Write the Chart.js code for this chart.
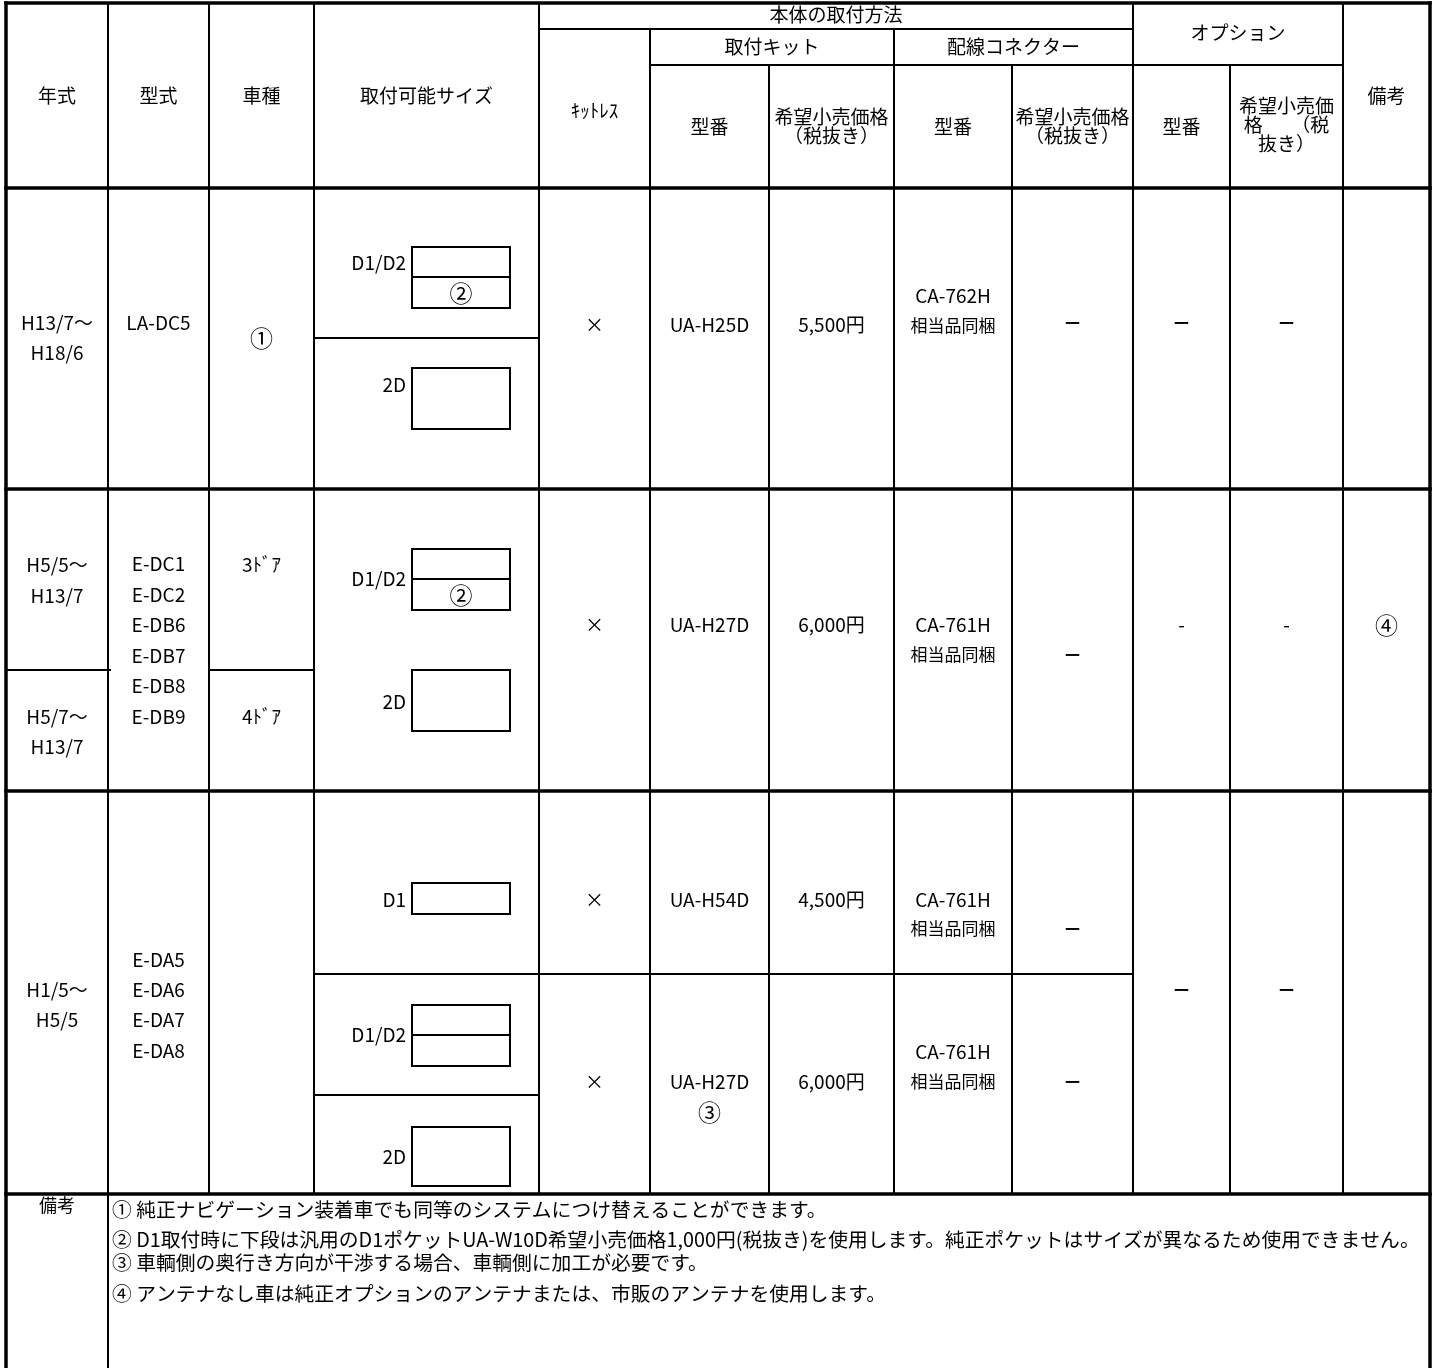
<!DOCTYPE html>
<html><head><meta charset="utf-8">
<script src="https://cdn.jsdelivr.net/npm/chart.js@4.4.1/dist/chart.umd.min.js"></script>
<style>html,body{margin:0;padding:0;background:#fff;}#wrap{width:1435px;height:1368px;position:relative;}</style>
</head><body><div id="wrap"><canvas id="c" width="1435" height="1368"></canvas></div>
<script>
// ===== DATA =====
const headerGroups = ["本体の取付方法", "取付キット", "配線コネクター", "オプション"];
const columnHeaders = [["年式"], ["型式"], ["車種"], ["取付可能サイズ"], ["ｷｯﾄﾚｽ"], ["型番"], ["希望小売価格", "（税抜き）"], ["型番"], ["希望小売価格", "（税抜き）"], ["型番"], ["希望小売価", "格　　（税", "抜き）"], ["備考"]];
const years = [["H13/7～", "H18/6"], ["H5/5～", "H13/7"], ["H5/7～", "H13/7"], ["H1/5～", "H5/5"]];
const models = [["LA-DC5"], ["E-DC1", "E-DC2", "E-DB6", "E-DB7", "E-DB8", "E-DB9"], ["E-DA5", "E-DA6", "E-DA7", "E-DA8"]];
const carTypes = ["①", "3ﾄﾞｱ", "4ﾄﾞｱ"];
const sizeLabels = ["D1/D2", "2D", "D1/D2", "2D", "D1", "D1/D2", "2D"];
const sizeNotes = ["②", "", "②", "", "", "", ""];
const kitless = ["×", "×", "×", "×"];
const kitModels = ["UA-H25D", "UA-H27D", "UA-H54D", "UA-H27D"];
const kitModelNotes = ["", "", "", "③"];
const kitPrices = ["5,500円", "6,000円", "4,500円", "6,000円"];
const connectorModels = ["CA-762H", "CA-761H", "CA-761H", "CA-761H"];
const connectorNotes = ["相当品同梱", "相当品同梱", "相当品同梱", "相当品同梱"];
const connectorPrices = ["－", "－", "－", "－"];
const optionModels = ["－", "-", "－"];
const optionPrices = ["－", "-", "－"];
const remarks = ["", "④", ""];
const notesLabel = "備考";
const notes = [
  "① 純正ナビゲーション装着車でも同等のシステムにつけ替えることができます。",
  "② D1取付時に下段は汎用のD1ポケットUA-W10D希望小売価格1,000円(税抜き)を使用します。純正ポケットはサイズが異なるため使用できません。",
  "③ 車輌側の奥行き方向が干渉する場合、車輌側に加工が必要です。",
  "④ アンテナなし車は純正オプションのアンテナまたは、市販のアンテナを使用します。"
];

// ===== LAYOUT (table units) =====
const COLS = [6, 108, 209, 314, 539, 650, 769, 894, 1012, 1133, 1230, 1343, 1430];
const ROWS = {top: 3, g1: 29, g2: 65, head: 188, r1: 489, r2: 791, end: 1194, bottom: 1368};
const CX = COLS.slice(0, -1).map((c, i) => (c + COLS[i + 1]) / 2);
const THICK = 3.5, THIN = 2;
const FS = 19, CIRCLE_FS = 23, NOTE_FS = 19.8;
const FONT = '"Noto Sans CJK JP", "Noto Sans CJK SC", sans-serif';

const thickLines = [
  [COLS[0], ROWS.top, COLS[12], ROWS.top], [COLS[0], ROWS.head, COLS[12], ROWS.head],
  [COLS[0], ROWS.r1, COLS[12], ROWS.r1], [COLS[0], ROWS.r2, COLS[12], ROWS.r2],
  [COLS[0], ROWS.end, COLS[12], ROWS.end],
  [COLS[0], ROWS.top, COLS[0], ROWS.bottom], [COLS[12], ROWS.top, COLS[12], ROWS.bottom]
];
const thinLines = [
  [COLS[1], ROWS.top, COLS[1], ROWS.bottom],
  [COLS[2], ROWS.top, COLS[2], ROWS.end], [COLS[3], ROWS.top, COLS[3], ROWS.end],
  [COLS[4], ROWS.top, COLS[4], ROWS.end], [COLS[5], ROWS.g1, COLS[5], ROWS.end],
  [COLS[6], ROWS.g2, COLS[6], ROWS.end], [COLS[7], ROWS.g1, COLS[7], ROWS.end],
  [COLS[8], ROWS.g2, COLS[8], ROWS.end], [COLS[9], ROWS.top, COLS[9], ROWS.end],
  [COLS[10], ROWS.g2, COLS[10], ROWS.end], [COLS[11], ROWS.top, COLS[11], ROWS.end],
  [COLS[4], ROWS.g1, COLS[9], ROWS.g1], [COLS[5], ROWS.g2, COLS[11], ROWS.g2],
  [COLS[3], 338, COLS[4], 338],
  [COLS[0], 670, COLS[1] + 2, 670], [COLS[2], 670, COLS[3], 670],
  [COLS[3], 974, COLS[9], 974], [COLS[3], 1095, COLS[4], 1095]
];
// size diagrams: [top, bottom, middle divider or null, label y, note y]
const BOX_X = [412, 510];
const LABEL_RIGHT = 406;
const sizeBoxes = [
  [247, 308, 277, 263, 293], [368, 429, null, 385, 0],
  [549, 610, 579, 579, 595], [670, 731, null, 702, 0],
  [883, 914, null, 900, 0], [1005, 1066, 1035, 1035, 0], [1127, 1186, null, 1157, 0]
];
const headerGroupPos = [[(COLS[4] + COLS[9]) / 2, 15], [(COLS[5] + COLS[7]) / 2, 47], [(COLS[7] + COLS[9]) / 2, 47], [(COLS[9] + COLS[11]) / 2, 33]];
const headerY = [[96], [96], [96], [96], [111], [127], [117, 136], [127], [117, 136], [127], [106, 125, 144], [96]];
const yearY = [[323, 353], [565, 596], [717, 747], [990, 1020]];
const modelY = [[323], [564, 594.5, 625, 655.5, 686, 716.5], [960, 990, 1020, 1051]];
const carTypeY = [338, 565, 717];
// per kit row: [main y, connector model y, connector note y, connector price y, kit note y]
const kitRowY = [[325, 296, 326, 323, 0], [625, 625, 655, 655, 0], [900, 900, 929, 929, 0], [1082, 1052, 1082, 1082, 1112]];
const optionY = [323, 625, 990];
const notesLabelY = 1205;
const notesX = 112;
const notesY = [1209, 1239, 1262, 1293];

// ===== DRAW through Chart.js scales =====
const CIRCLED = /^[①②③④]$/;
const tablePlugin = {
  id: 'tablePlugin',
  afterDraw(chart) {
    const ctx = chart.ctx;
    const xs = chart.scales.x, ys = chart.scales.y;
    const X = v => xs.getPixelForValue(v), Y = v => ys.getPixelForValue(v);
    ctx.save();
    ctx.fillStyle = '#fff';
    ctx.fillRect(0, 0, chart.width, chart.height);
    ctx.strokeStyle = '#000';
    ctx.lineCap = 'square';
    const line = (l, w) => { ctx.lineWidth = w; ctx.beginPath(); ctx.moveTo(X(l[0]), Y(l[1])); ctx.lineTo(X(l[2]), Y(l[3])); ctx.stroke(); };
    thinLines.forEach(l => line(l, THIN));
    thickLines.forEach(l => line(l, THICK));
    ctx.lineWidth = THIN;
    sizeBoxes.forEach(b => {
      ctx.strokeRect(X(BOX_X[0]), Y(b[0]), X(BOX_X[1]) - X(BOX_X[0]), Y(b[1]) - Y(b[0]));
      if (b[2] !== null) line([BOX_X[0], b[2], BOX_X[1], b[2]], THIN);
    });
    ctx.fillStyle = '#000';
    ctx.textBaseline = 'middle';
    const txt = (s, x, y, align = 'center', size = FS) => {
      if (!s) return;
      let weight = '';
      if (CIRCLED.test(s)) size = CIRCLE_FS;
      if (s === '－') weight = 'bold ';
      ctx.font = weight + size + 'px ' + FONT;
      ctx.textAlign = align;
      ctx.fillText(s, X(x), Y(y));
    };
    headerGroups.forEach((s, i) => txt(s, headerGroupPos[i][0], headerGroupPos[i][1]));
    columnHeaders.forEach((lines, i) => lines.forEach((s, j) => txt(s, CX[i], headerY[i][j])));
    years.forEach((ls, i) => ls.forEach((s, j) => txt(s, CX[0], yearY[i][j])));
    models.forEach((ls, i) => ls.forEach((s, j) => txt(s, CX[1], modelY[i][j])));
    carTypes.forEach((s, i) => txt(s, CX[2], carTypeY[i]));
    sizeLabels.forEach((s, i) => {
      txt(s, LABEL_RIGHT, sizeBoxes[i][3], 'right');
      txt(sizeNotes[i], (BOX_X[0] + BOX_X[1]) / 2, sizeBoxes[i][4]);
    });
    kitModels.forEach((s, i) => {
      const r = kitRowY[i];
      txt(kitless[i], CX[4], r[0]);
      txt(s, CX[5], r[0]);
      txt(kitModelNotes[i], CX[5], r[4]);
      txt(kitPrices[i], CX[6], r[0]);
      txt(connectorModels[i], CX[7], r[1]);
      txt(connectorNotes[i], CX[7], r[2], 'center', 17);
      txt(connectorPrices[i], CX[8], r[3]);
    });
    optionModels.forEach((s, i) => {
      txt(s, CX[9], optionY[i]);
      txt(optionPrices[i], CX[10], optionY[i]);
      txt(remarks[i], CX[11], optionY[i]);
    });
    txt(notesLabel, CX[0], notesLabelY, 'center', 18);
    notes.forEach((s, i) => txt(s, notesX, notesY[i], 'left', NOTE_FS));
    ctx.restore();
  }
};

new Chart(document.getElementById('c'), {
  type: 'scatter',
  data: {datasets: [{data: [], pointRadius: 0}]},
  options: {
    responsive: false, animation: false, devicePixelRatio: 1,
    layout: {padding: 0},
    plugins: {legend: {display: false}, tooltip: {enabled: false}, title: {display: false}},
    scales: {
      x: {type: 'linear', min: 0, max: 1435, display: false},
      y: {type: 'linear', min: 0, max: 1368, reverse: true, display: false}
    }
  },
  plugins: [tablePlugin]
});
</script>
</body></html>
